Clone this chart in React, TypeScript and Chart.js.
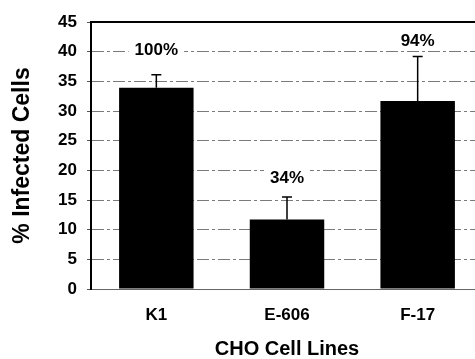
import React, { useEffect, useRef } from "react";
import { Chart, registerables } from "chart.js";

Chart.register(...registerables);

const categories = ["K1", "E-606", "F-17"];
const meanValues = [33.9, 11.7, 31.7];
const errorUpper = [36.1, 15.5, 39.2];
const percentLabels = ["100%", "34%", "94%"];
const percentLabelLevels = [40.2, 18.6, 41.7];
const yTicks = [0, 5, 10, 15, 20, 25, 30, 35, 40, 45];

const FONT = "'Liberation Sans', Arial, Helvetica, sans-serif";

const annotPlugin = {
  id: "annot",
  afterDatasetsDraw(chart: any) {
    const { ctx, scales } = chart;
    const x = scales.x;
    const y = scales.y;
    ctx.save();
    // error bars
    ctx.strokeStyle = "#000";
    ctx.lineWidth = 1.5;
    categories.forEach((c, i) => {
      const px = x.getPixelForValue(i);
      const y0 = y.getPixelForValue(meanValues[i]);
      const y1 = y.getPixelForValue(errorUpper[i]);
      ctx.beginPath();
      ctx.moveTo(px, y0);
      ctx.lineTo(px, y1);
      ctx.moveTo(px - 5, y1);
      ctx.lineTo(px + 5, y1);
      ctx.stroke();
    });
    // percent labels
    ctx.font = `bold 17px ${FONT}`;
    ctx.textAlign = "center";
    ctx.textBaseline = "middle";
    percentLabels.forEach((t, i) => {
      const px = x.getPixelForValue(i);
      const py = y.getPixelForValue(percentLabelLevels[i]);
      const w = ctx.measureText(t).width;
      ctx.fillStyle = "#fff";
      ctx.fillRect(px - w / 2 - 6, py - 9, w + 12, 18);
      ctx.fillStyle = "#000";
      ctx.fillText(t, px, py);
    });
    // top frame line
    ctx.strokeStyle = "#000";
    ctx.lineWidth = 2;
    ctx.beginPath();
    ctx.moveTo(chart.chartArea.left, chart.chartArea.top);
    ctx.lineTo(chart.chartArea.right, chart.chartArea.top);
    ctx.stroke();
    ctx.restore();
  },
};

export default function App() {
  const ref = useRef<HTMLCanvasElement | null>(null);
  useEffect(() => {
    if (!ref.current) return;
    const chart = new Chart(ref.current, {
      type: "bar",
      data: {
        labels: categories,
        datasets: [
          {
            data: meanValues,
            backgroundColor: "#000",
            borderWidth: 0,
            categoryPercentage: 1,
            barPercentage: 0.57,
          },
        ],
      },
      options: {
        animation: false,
        responsive: false,
        maintainAspectRatio: false,
        layout: { padding: { left: 0, right: 17, top: 22, bottom: 0 } },
        plugins: {
          legend: { display: false },
          tooltip: { enabled: false },
        },
        scales: {
          x: {
            grid: { display: false, drawTicks: false },
            border: { display: true, color: "#666", width: 1 },
            ticks: {
              color: "#000",
              padding: 16,
              font: { family: FONT, size: 17, weight: "bold" },
            },
            title: {
              display: true,
              text: "CHO Cell Lines",
              color: "#000",
              font: { family: FONT, size: 20, weight: "bold", lineHeight: 1 },
              padding: { top: 0, bottom: 0 },
            },
            afterFit(scale: any) {
              scale.height = 70;
            },
          },
          y: {
            min: 0,
            max: 45,
            afterBuildTicks(scale: any) {
              scale.ticks = yTicks.map((v) => ({ value: v }));
            },
            grid: {
              color: "#7a7a7a",
              lineWidth: 1,
              drawTicks: true,
              tickLength: 4,
              tickColor: "#555",
            },
            border: { display: true, color: "#000", width: 2, dash: [12, 3, 3, 3] },
            ticks: {
              color: "#000",
              padding: 10,
              font: { family: FONT, size: 17, weight: "bold" },
            },
            title: {
              display: true,
              text: "% Infected Cells",
              color: "#000",
              font: { family: FONT, size: 23, weight: "bold", lineHeight: 1.2 },
              padding: { top: 9, bottom: 0 },
            },
            afterFit(scale: any) {
              scale.width = 91;
            },
          },
        },
      },
      plugins: [annotPlugin],
    });
    return () => chart.destroy();
  }, []);
  return (
    <div
      style={{
        position: "fixed",
        left: 0,
        top: 0,
        width: 475,
        height: 359,
        overflow: "hidden",
        background: "#fff",
      }}
    >
      <canvas ref={ref} width={500} height={359} style={{ display: "block" }} />
    </div>
  );
}
